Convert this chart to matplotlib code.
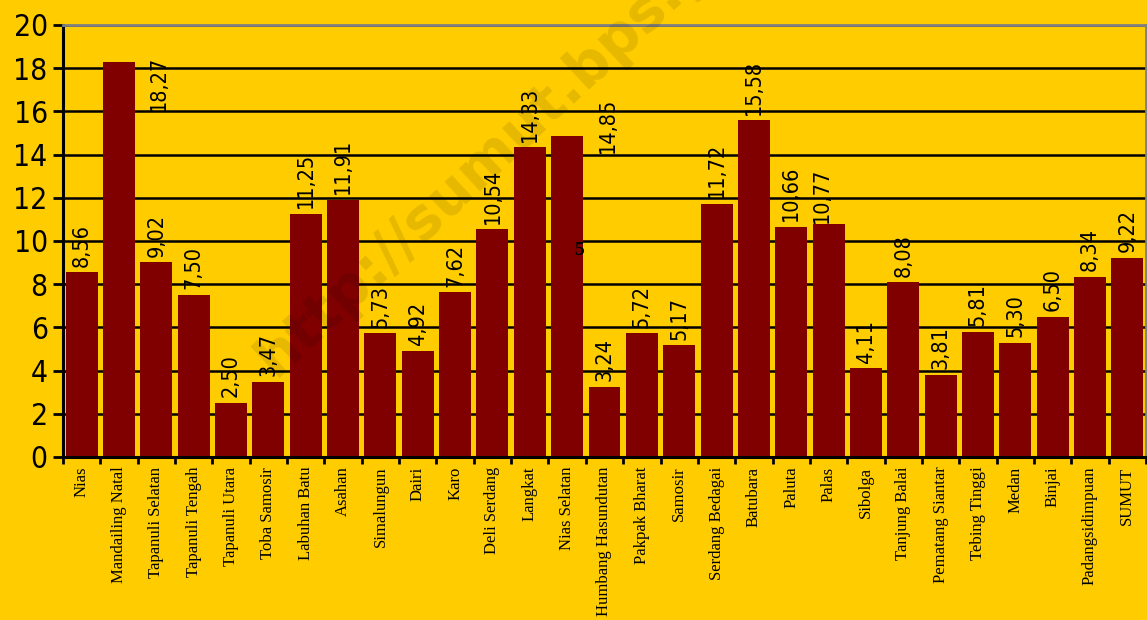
import matplotlib
matplotlib.use("Agg")
import matplotlib.pyplot as plt
from matplotlib import font_manager

categories = ["Nias", "Mandailing Natal", "Tapanuli Selatan", "Tapanuli Tengah",
              "Tapanuli Utara", "Toba Samosir", "Labuhan Batu", "Asahan",
              "Simalungun", "Dairi", "Karo", "Deli Serdang", "Langkat",
              "Nias Selatan", "Humbang Hasundutan", "Pakpak Bharat", "Samosir",
              "Serdang Bedagai", "Batubara", "Paluta", "Palas", "Sibolga",
              "Tanjung Balai", "Pematang Siantar", "Tebing Tinggi", "Medan",
              "Binjai", "Padangsidimpuan", "SUMUT"]
values = [8.56, 18.27, 9.02, 7.50, 2.50, 3.47, 11.25, 11.91, 5.73, 4.92,
          7.62, 10.54, 14.33, 14.85, 3.24, 5.72, 5.17, 11.72, 15.58, 10.66,
          10.77, 4.11, 8.08, 3.81, 5.81, 5.30, 6.50, 8.34, 9.22]
value_labels = [f"{v:.2f}".replace(".", ",") for v in values]
y_ticks = [0, 2, 4, 6, 8, 10, 12, 14, 16, 18, 20]

# label displacements (category units, value units) seen in the original
label_shift = {1: (1.08, -2.53), 13: (1.08, -1.05), 20: (-0.17, -0.2)}

cond = font_manager.FontProperties(family="DejaVu Sans", stretch="condensed")
cond_path = font_manager.findfont(cond)

BG = "#FFCC00"
BAR = "#800000"

fig = plt.figure(figsize=(11.47, 6.2), dpi=100, facecolor=BG)
ax = fig.add_axes([63/1147, 163/620, (1146-63)/1147, (457-25)/620])
ax.set_facecolor(BG)

x = list(range(len(categories)))
ax.bar(x, values, width=0.856, color=BAR, zorder=3)
ax.set_xlim(-0.5, len(categories) - 0.5)
ax.set_ylim(0, 20)

ax.set_yticks(y_ticks)
ax.set_yticklabels([str(t) for t in y_ticks])
for t in ax.get_yticklabels():
    t.set_fontproperties(font_manager.FontProperties(fname=cond_path, size=21.5))
ax.yaxis.grid(True, color="black", linewidth=1.8, zorder=1)
ax.set_axisbelow(True)

ax.set_xticks(x)
ax.set_xticklabels(categories, rotation=90, fontsize=12, family="Liberation Serif",
                   va="top", ha="center")
ax.set_xticks([i + 0.5 for i in range(-1, len(categories))], minor=True)
ax.tick_params(axis="x", which="major", length=0, pad=7)
ax.tick_params(axis="x", which="minor", length=5, width=2, direction="out", color="black")
ax.tick_params(axis="y", length=7, width=2, direction="out", color="black", pad=4)

for s in ("left", "bottom"):
    ax.spines[s].set_color("black")
    ax.spines[s].set_linewidth(2.2)
    ax.spines[s].set_zorder(5)
for s in ("top", "right"):
    ax.spines[s].set_color("#808080")
    ax.spines[s].set_linewidth(2)
    ax.spines[s].set_zorder(5)

lab_font = font_manager.FontProperties(fname=cond_path, size=15.5)
for i, (v, lab) in enumerate(zip(values, value_labels)):
    dx, dy = label_shift.get(i, (0, 0))
    ax.annotate(lab, (i + dx, v + dy), xytext=(0, 4), textcoords="offset points",
                rotation=90, ha="center", va="bottom", fontproperties=lab_font,
                color="black", zorder=6)

# stray mark in the original
ax.text(13.33, 9.58, "5", fontsize=14, fontweight="bold", family="Liberation Serif",
        ha="center", va="center", color="black", zorder=6)

# watermark
fig.text(275/1147, 1 - 378/620, "http://sumut.bps.go.id", fontsize=41,
         fontweight="bold", family="DejaVu Sans", color="black", alpha=0.1,
         rotation=43, rotation_mode="anchor", ha="left", va="baseline", zorder=10)

fig.savefig("out.png", dpi=100, facecolor=BG)
